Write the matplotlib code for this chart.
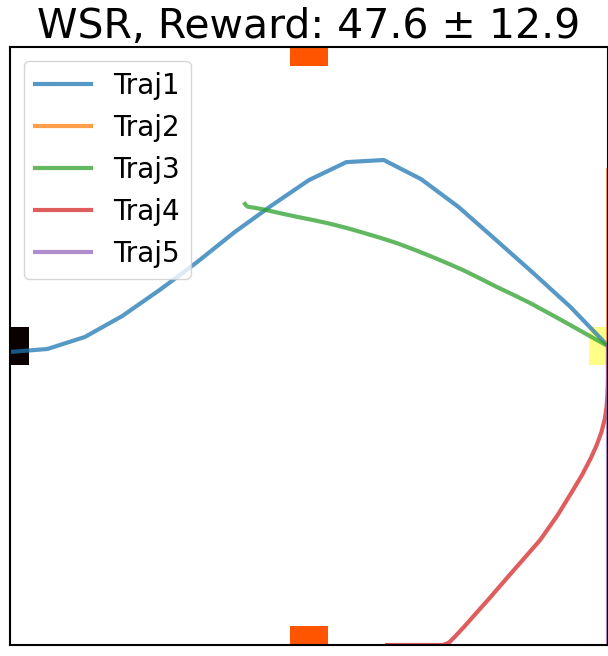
import numpy as np
import matplotlib
matplotlib.use("Agg")
import matplotlib.pyplot as plt
from matplotlib.patches import Rectangle

# trajectories, in grid coords ([-1, 1] both ways)
traj1_x = [-1.0, -0.875, -0.75, -0.625, -0.5, -0.375, -0.25, -0.125, 0.0,
           0.125, 0.25, 0.375, 0.5, 0.625, 0.75, 0.875, 1.0]
traj1_y = [-0.02, -0.01, 0.03, 0.10, 0.187, 0.28, 0.38, 0.47, 0.555,
           0.615, 0.622, 0.558, 0.465, 0.355, 0.244, 0.13, 0.0]

traj2_x = [1.0, 1.0]
traj2_y = [0.59, 0.0]

traj3_x = [-0.214, -0.211, -0.205, -0.180, -0.154, -0.100, -0.040, 0.015,
           0.070, 0.125, 0.181, 0.238, 0.294, 0.350, 0.405, 0.460, 0.515,
           0.572, 0.629, 0.684, 0.739, 0.794, 0.849, 0.906, 0.963, 1.0]
traj3_y = [0.475, 0.471, 0.466, 0.462, 0.457, 0.445, 0.432, 0.421,
           0.409, 0.395, 0.379, 0.362, 0.344, 0.323, 0.301, 0.278, 0.254,
           0.226, 0.197, 0.171, 0.144, 0.114, 0.084, 0.052, 0.020, 0.0]

traj4_x = [0.261, 0.448, 0.468, 0.488, 0.518, 0.548, 0.605, 0.662, 0.718,
           0.773, 0.830, 0.883, 0.915, 0.942, 0.962, 0.978, 0.989, 0.995,
           0.998, 1.0, 1.0]
traj4_y = [-1.0, -1.0, -0.992, -0.972, -0.940, -0.906, -0.842, -0.776,
           -0.712, -0.649, -0.568, -0.482, -0.428, -0.376, -0.332, -0.288,
           -0.245, -0.205, -0.165, -0.114, 0.0]

traj5_x = [1.0, 1.0]
traj5_y = [0.0, -1.0]

trajs = [(traj1_x, traj1_y), (traj2_x, traj2_y), (traj3_x, traj3_y),
         (traj4_x, traj4_y), (traj5_x, traj5_y)]
labels = ["Traj1", "Traj2", "Traj3", "Traj4", "Traj5"]

# markers on the border: (x, y, colour)
cells_x = [0.0, 0.0, -1.0, 1.0]
cells_y = [1.0, -1.0, 0.0, 0.0]
cells_c = ["#ff5500", "#ff5500", "#0a0000", "#ffff88"]
CELL = 0.125

fig = plt.figure(figsize=(6.08, 6.56), dpi=100)
ax = fig.add_axes([10 / 608, 11 / 656, 598 / 608, 598 / 656])

for (cx, cy, col) in zip(cells_x, cells_y, cells_c):
    ax.add_patch(Rectangle((cx - CELL / 2, cy - CELL / 2), CELL, CELL,
                           facecolor=col, edgecolor="none", zorder=1))

for (xs, ys), lab in zip(trajs, labels):
    ax.plot(xs, ys, lw=3, alpha=0.75, label=lab, zorder=2)

ax.set_xlim(-1, 1)
ax.set_ylim(-1, 1)
ax.set_xticks([])
ax.set_yticks([])
for spine in ax.spines.values():
    spine.set_linewidth(1.5)

ax.set_title("WSR, Reward: 47.6 \u00b1 12.9", fontsize=29.5, pad=4)
ax.legend(loc="upper left", fontsize=20)

fig.savefig("out.png", dpi=100, facecolor="white")
